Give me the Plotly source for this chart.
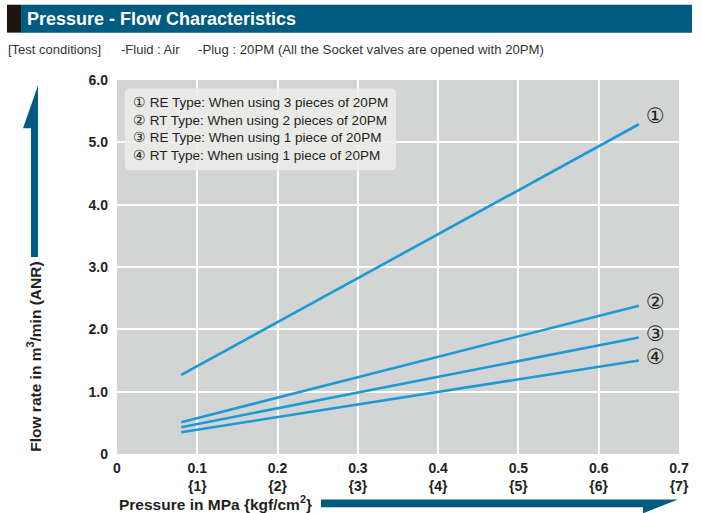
import plotly.graph_objects as go

# ---- data ----
pressure_start = 0.08
pressure_end = 0.65
series_names = ["①", "②", "③", "④"]
flow_start = [1.27, 0.51, 0.43, 0.35]
flow_end = [5.29, 2.38, 1.87, 1.50]
x_tick_vals = [0, 0.1, 0.2, 0.3, 0.4, 0.5, 0.6, 0.7]
x_tick_text = ["0", "0.1<br>{1}", "0.2<br>{2}", "0.3<br>{3}", "0.4<br>{4}",
               "0.5<br>{5}", "0.6<br>{6}", "0.7<br>{7}"]
y_tick_vals = [0, 1, 2, 3, 4, 5, 6]
y_tick_text = ["0", "1.0", "2.0", "3.0", "4.0", "5.0", "6.0"]
legend_lines = [
    "① RE Type: When using 3 pieces of 20PM",
    "② RT Type: When using 2 pieces of 20PM",
    "③ RE Type: When using 1 piece of 20PM",
    "④ RT Type: When using 1 piece of 20PM",
]

W, H = 702, 513
L, R, T, B = 117, 23, 79.5, 58.5
PW, PH = W - L - R, H - T - B

def px(x):
    return (x - L) / PW

def py(y):
    return (H - B - y) / PH

TEAL = "#005b80"
LINE = "#1b9ad6"
DARK = "#231f20"
NARROW = "Liberation Sans Narrow, Arial Narrow, Liberation Sans, sans-serif"

fig = go.Figure()
for i, name in enumerate(series_names):
    fig.add_trace(go.Scatter(
        x=[pressure_start, pressure_end], y=[flow_start[i], flow_end[i]],
        mode="lines", line=dict(color=LINE, width=2.6), showlegend=False,
        hoverinfo="skip"))

label_annots = []
for i, name in enumerate(series_names):
    label_annots.append(dict(x=pressure_end, y=flow_end[i] + (0.14 if i == 0 else 0.06),
                             xref="x", yref="y",
                             text=name, showarrow=False, xanchor="left", xshift=5,
                             font=dict(size=21, color=DARK, family="DejaVu Sans")))

shapes = []
# header bar
shapes.append(dict(type="rect", xref="paper", yref="paper", x0=px(21), x1=px(692),
                   y0=py(32), y1=py(4), fillcolor=TEAL, line=dict(width=0), layer="below"))
shapes.append(dict(type="rect", xref="paper", yref="paper", x0=px(7), x1=px(21),
                   y0=py(32), y1=py(4), fillcolor="#1e1410", line=dict(width=0), layer="below"))
# legend box (rounded)
bx0, bx1, by0, by1, r = 125, 396, 88, 170, 5
path = (f"M {px(bx0+r)},{py(by0)} L {px(bx1-r)},{py(by0)} "
        f"Q {px(bx1)},{py(by0)} {px(bx1)},{py(by0+r)} L {px(bx1)},{py(by1-r)} "
        f"Q {px(bx1)},{py(by1)} {px(bx1-r)},{py(by1)} L {px(bx0+r)},{py(by1)} "
        f"Q {px(bx0)},{py(by1)} {px(bx0)},{py(by1-r)} L {px(bx0)},{py(by0+r)} "
        f"Q {px(bx0)},{py(by0)} {px(bx0+r)},{py(by0)} Z")
shapes.append(dict(type="path", xref="paper", yref="paper", path=path,
                   fillcolor="rgba(236,236,234,0.85)", line=dict(width=0), layer="above"))
# y arrow
ypath = (f"M {px(38)},{py(85)} L {px(38)},{py(257)} L {px(31)},{py(257)} "
         f"L {px(31)},{py(128)} L {px(23)},{py(128)} Z")
shapes.append(dict(type="path", xref="paper", yref="paper", path=ypath,
                   fillcolor=TEAL, line=dict(width=0)))
# x arrow
xpath = (f"M {px(321)},{py(500)} L {px(678)},{py(500)} L {px(643)},{py(514)} "
         f"L {px(643)},{py(508)} L {px(321)},{py(508)} Z")
shapes.append(dict(type="path", xref="paper", yref="paper", path=xpath,
                   fillcolor=TEAL, line=dict(width=0)))

annotations = [
    dict(xref="paper", yref="paper", x=px(25), y=py(18), xanchor="left", yanchor="middle",
         text="<b>Pressure - Flow Characteristics</b>", showarrow=False,
         font=dict(family=NARROW, size=18, color="white")),
    dict(xref="paper", yref="paper", x=px(6), y=py(49), xanchor="left", yanchor="middle",
         text="[Test conditions]", showarrow=False,
         font=dict(family=NARROW, size=13, color="#333333")),
    dict(xref="paper", yref="paper", x=px(119), y=py(49), xanchor="left", yanchor="middle",
         text="-Fluid : Air", showarrow=False,
         font=dict(family=NARROW, size=13, color="#333333")),
    dict(xref="paper", yref="paper", x=px(196), y=py(49), xanchor="left", yanchor="middle",
         text="-Plug : 20PM (All the Socket valves are opened with 20PM)", showarrow=False,
         font=dict(family=NARROW, size=13.2, color="#333333")),
    dict(xref="paper", yref="paper", x=px(34), y=py(357), xanchor="center", yanchor="middle",
         textangle=-90, text="<b>Flow rate in m<sup>3</sup>/min (ANR)</b>", showarrow=False,
         font=dict(family=NARROW, size=15.5, color=DARK)),
    dict(xref="paper", yref="paper", x=px(117), y=py(504), xanchor="left", yanchor="middle",
         text="<b>Pressure in MPa {kgf/cm<sup>2</sup>}</b>", showarrow=False,
         font=dict(family=NARROW, size=15.5, color=DARK)),
    dict(xref="paper", yref="paper", x=px(131), y=py(129), xanchor="left", yanchor="middle",
         text="<br>".join(legend_lines), showarrow=False, align="left",
         font=dict(family="Liberation Sans, Arial, sans-serif", size=13.5, color=DARK)),
]

fig.update_layout(
    width=W, height=H, margin=dict(l=L, r=R, t=T, b=B, autoexpand=False),
    paper_bgcolor="white", plot_bgcolor="#d3d5d5",
    shapes=shapes, annotations=annotations + label_annots,
    xaxis=dict(range=[0, 0.7], tickvals=x_tick_vals,
               ticktext=["<b>" + t.replace("<br>", "</b><br><b>") + "</b>" for t in x_tick_text],
               showgrid=True, gridcolor="white", gridwidth=2, zeroline=False,
               showline=False, ticks="", ticklabelstandoff=4,
               tickfont=dict(family=NARROW, size=14, color=DARK)),
    yaxis=dict(range=[0, 6], tickvals=y_tick_vals,
               ticktext=["<b>" + t + "</b>" for t in y_tick_text],
               showgrid=True, gridcolor="white", gridwidth=2, zeroline=False,
               showline=False, ticks="", ticklabelstandoff=8,
               tickfont=dict(family=NARROW, size=14, color=DARK)),
)

fig.write_html("out.html", config={"displayModeBar": False},
               post_script="document.body.style.margin='0';document.body.style.padding='0';")
